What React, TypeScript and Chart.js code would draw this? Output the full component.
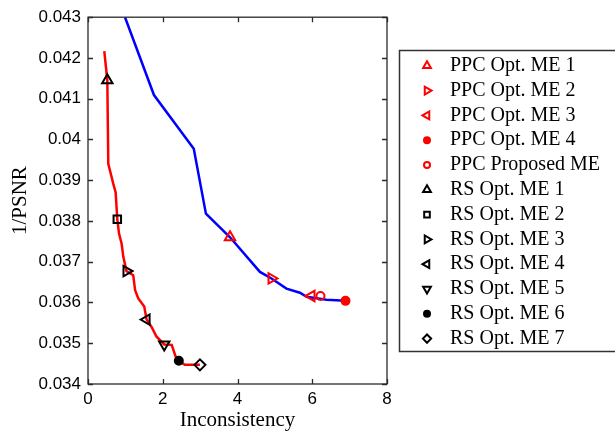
import React, { useEffect, useRef } from 'react';
import { Chart, registerables } from 'chart.js';
import { drawPoint } from 'chart.js/helpers';

Chart.register(...registerables);

// ---- data ----
const xTickValues = [0, 2, 4, 6, 8];
const yTickValues = [0.034, 0.035, 0.036, 0.037, 0.038, 0.039, 0.04, 0.041, 0.042, 0.043];

const ppcCurveX = [0.99, 1.765, 2.83, 3.155, 3.8, 4.6, 4.91, 5.31, 5.67, 5.85, 6.38, 6.89];
const ppcCurveY = [0.043, 0.04109, 0.03977, 0.03818, 0.0376, 0.03675, 0.03659, 0.03634, 0.03624, 0.03614, 0.03607, 0.03604];

const rsCurveX = [0.436, 0.517, 0.543, 0.677, 0.74, 0.784, 0.83, 0.9, 0.945, 1.03, 1.21, 1.26, 1.345, 1.505, 1.568, 1.7, 1.835, 2.04, 2.24, 2.345, 2.43, 2.59, 2.995];
const rsCurveY = [0.04217, 0.04145, 0.0394, 0.03891, 0.0387, 0.03804, 0.03769, 0.03744, 0.03712, 0.03677, 0.03667, 0.0363, 0.0361, 0.0359, 0.03558, 0.0354, 0.03516, 0.03497, 0.03496, 0.03467, 0.03457, 0.03447, 0.03447];

const ppcLabels = ['PPC Opt. ME 1', 'PPC Opt. ME 2', 'PPC Opt. ME 3', 'PPC Opt. ME 4', 'PPC Proposed ME'];
const ppcX = [3.8, 4.91, 5.98, 6.89, 6.22];
const ppcY = [0.0376, 0.03659, 0.03616, 0.03604, 0.03616];

const rsLabels = ['RS Opt. ME 1', 'RS Opt. ME 2', 'RS Opt. ME 3', 'RS Opt. ME 4', 'RS Opt. ME 5', 'RS Opt. ME 6', 'RS Opt. ME 7'];
const rsX = [0.517, 0.784, 1.03, 1.568, 2.04, 2.43, 2.995];
const rsY = [0.04145, 0.03804, 0.03677, 0.03558, 0.03497, 0.03457, 0.03447];

// ---- styles ----
const RED = '#ff0000';
const BLUE = '#0000ff';
const BLACK = '#000000';
const ppcStyles = [
  { style: 'triangle', rot: 0, filled: false, r: 6 },
  { style: 'triangle', rot: 90, filled: false, r: 6 },
  { style: 'triangle', rot: -90, filled: false, r: 6 },
  { style: 'circle', rot: 0, filled: true, r: 4 },
  { style: 'circle', rot: 0, filled: false, r: 4 },
];
const rsStyles = [
  { style: 'triangle', rot: 0, filled: false, r: 6 },
  { style: 'rect', rot: 0, filled: false, r: 5.3 },
  { style: 'triangle', rot: 90, filled: false, r: 6 },
  { style: 'triangle', rot: -90, filled: false, r: 6 },
  { style: 'triangle', rot: 180, filled: false, r: 6 },
  { style: 'circle', rot: 0, filled: true, r: 4 },
  { style: 'rectRot', rot: 0, filled: false, r: 5.5 },
];

const SANS = '"Liberation Sans", Arial, sans-serif';
const SERIF = '"Liberation Serif", "Times New Roman", serif';

function markerDataset(label: string, x: number, y: number, color: string, st: any) {
  return {
    type: 'scatter',
    label,
    data: [{ x, y }],
    showLine: false,
    pointStyle: st.style,
    pointRotation: st.rot,
    pointRadius: st.r,
    pointBorderWidth: 2,
    pointBorderColor: color,
    pointBackgroundColor: st.filled ? color : 'rgba(0,0,0,0)',
    order: 0,
    isMarker: true,
    legendColor: color,
    legendStyle: st,
  };
}

const framePlugin = {
  id: 'frameTicks',
  afterDatasetsDraw(chart: any) {
    const { ctx, chartArea: a, scales } = chart;
    const x = scales.x;
    const y = scales.y;
    ctx.save();
    ctx.strokeStyle = '#2a2a2a';
    ctx.lineWidth = 1.3;
    ctx.strokeRect(a.left, a.top, a.right - a.left, a.bottom - a.top);
    const tl = 5;
    ctx.beginPath();
    x.ticks.forEach((t: any) => {
      const px = Math.round(x.getPixelForValue(t.value)) + 0.5;
      ctx.moveTo(px, a.bottom);
      ctx.lineTo(px, a.bottom - tl);
      ctx.moveTo(px, a.top);
      ctx.lineTo(px, a.top + tl);
    });
    y.ticks.forEach((t: any) => {
      const py = Math.round(y.getPixelForValue(t.value)) + 0.5;
      ctx.moveTo(a.left, py);
      ctx.lineTo(a.left + tl, py);
      ctx.moveTo(a.right, py);
      ctx.lineTo(a.right - tl, py);
    });
    ctx.stroke();
    ctx.restore();
  },
};

const legendPlugin = {
  id: 'boxLegend',
  afterDraw(chart: any) {
    const { ctx } = chart;
    const items = chart.data.datasets.filter((d: any) => d.isMarker);
    const boxLeft = 399.5;
    const boxTop = 50.5;
    const boxBottom = 351.5;
    ctx.save();
    ctx.strokeStyle = '#333';
    ctx.lineWidth = 1.5;
    ctx.strokeRect(boxLeft, boxTop, 700 - boxLeft, boxBottom - boxTop);
    const rowY0 = 65.8;
    const rowStep = 24.8;
    ctx.font = '20px ' + SERIF;
    ctx.textBaseline = 'middle';
    ctx.textAlign = 'left';
    items.forEach((d: any, i: number) => {
      const cy = rowY0 + i * rowStep;
      const st = d.legendStyle;
      ctx.strokeStyle = d.legendColor;
      ctx.fillStyle = st.filled ? d.legendColor : 'rgba(0,0,0,0)';
      ctx.lineWidth = 2;
      drawPoint(ctx, { pointStyle: st.style, rotation: st.rot, radius: st.r * 0.75, borderWidth: 2 } as any, 427, cy);
      ctx.fillStyle = '#000';
      ctx.fillText(d.label, 450, cy);
    });
    ctx.restore();
  },
};

export default function App() {
  const canvasRef = useRef<HTMLCanvasElement | null>(null);

  useEffect(() => {
    if (!canvasRef.current) return;
    const datasets: any[] = [];
    ppcLabels.forEach((l, i) => datasets.push(markerDataset(l, ppcX[i], ppcY[i], RED, ppcStyles[i])));
    rsLabels.forEach((l, i) => datasets.push(markerDataset(l, rsX[i], rsY[i], BLACK, rsStyles[i])));
    datasets.push({
      type: 'scatter',
      label: 'PPC curve',
      data: ppcCurveX.map((x, i) => ({ x, y: ppcCurveY[i] })),
      showLine: true,
      borderColor: BLUE,
      borderWidth: 2.5,
      pointRadius: 0,
      tension: 0,
      order: 1,
    });
    datasets.push({
      type: 'scatter',
      label: 'RS curve',
      data: rsCurveX.map((x, i) => ({ x, y: rsCurveY[i] })),
      showLine: true,
      borderColor: RED,
      borderWidth: 2.5,
      pointRadius: 0,
      tension: 0,
      order: 1,
    });

    const chart = new Chart(canvasRef.current, {
      type: 'scatter',
      data: { datasets },
      options: {
        animation: false,
        responsive: false,
        devicePixelRatio: 1,
        events: [],
        layout: { padding: { left: 0, right: 228, top: 16, bottom: 0 } },
        plugins: { legend: { display: false }, tooltip: { enabled: false } },
        scales: {
          x: {
            type: 'linear',
            min: 0,
            max: 8,
            grid: { display: false, drawTicks: false },
            border: { display: false },
            afterBuildTicks: (s: any) => {
              s.ticks = xTickValues.map((v) => ({ value: v }));
            },
            afterFit: (s: any) => {
              s.height = 49;
            },
            ticks: {
              color: '#000',
              font: { family: SANS, size: 17 },
              padding: 5,
              maxRotation: 0,
              callback: (v: any) => String(v),
            },
            title: {
              display: true,
              text: 'Inconsistency',
              color: '#000',
              font: { family: SERIF, size: 21 },
              padding: { top: 0, bottom: 0 },
            },
          },
          y: {
            type: 'linear',
            min: 0.034,
            max: 0.043,
            grid: { display: false, drawTicks: false },
            border: { display: false },
            afterBuildTicks: (s: any) => {
              s.ticks = yTickValues.map((v) => ({ value: v }));
            },
            afterFit: (s: any) => {
              s.width = 88;
            },
            ticks: {
              color: '#000',
              font: { family: SANS, size: 17 },
              padding: 7,
              callback: (v: any) => String(Number(Number(v).toFixed(3))),
            },
            title: {
              display: true,
              text: '1/PSNR',
              color: '#000',
              font: { family: SERIF, size: 21 },
              padding: { top: 8, bottom: 0 },
            },
          },
        },
      },
      plugins: [framePlugin, legendPlugin],
    } as any);
    return () => chart.destroy();
  }, []);

  return (
    <div style={{ position: 'fixed', left: 0, top: 0, width: 615, height: 433, background: '#fff' }}>
      <canvas ref={canvasRef} width={615} height={433} style={{ display: 'block' }} />
    </div>
  );
}
